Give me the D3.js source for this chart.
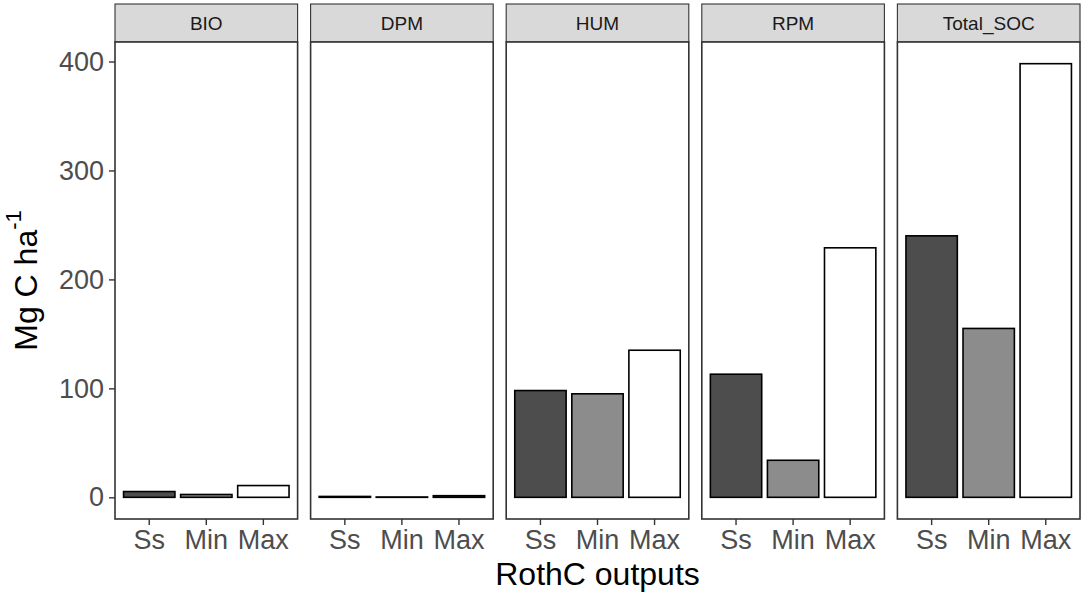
<!DOCTYPE html>
<html><head><meta charset="utf-8">
<script src="https://cdn.jsdelivr.net/npm/d3@7"></script>
<style>body{margin:0;background:#fff;} svg{display:block;font-family:Arial,"Liberation Sans",sans-serif;}</style>
</head><body>
<svg id="chart" width="1084" height="597"></svg>
<script>
const panels = ["BIO", "DPM", "HUM", "RPM", "Total_SOC"];
const categories = ["Ss", "Min", "Max"];
const ssValues  = [5.3, 0.8, 98, 113, 240];
const minValues = [2.6, 0.3, 95, 34, 155];
const maxValues = [10.8, 1.5, 135, 229, 398];
const yTicks = [0, 100, 200, 300, 400];
const fills = {Ss: "#4d4d4d", Min: "#8c8c8c", Max: "#ffffff"};

(function () {
const seriesByCat = {Ss: ssValues, Min: minValues, Max: maxValues};

const svg = d3.select("#chart");
const pLeft = 115, pRight = 1080, pTop = 42, pBottom = 519, stripTop = 4;
const gap = 13;
const pw = (pRight - pLeft - gap * (panels.length - 1)) / panels.length;

const dataMax = d3.max([...ssValues, ...minValues, ...maxValues]);
const ext = dataMax * 0.05;
const y = d3.scaleLinear().domain([-ext, dataMax + ext]).range([pBottom, pTop]);

panels.forEach((p, i) => {
  const x0 = pLeft + i * (pw + gap);
  const g = svg.append("g").attr("transform", `translate(${x0},0)`);
  const x = d3.scaleBand().domain(categories).range([0, pw]).paddingInner(0.1).paddingOuter(0.15);

  g.append("rect").attr("x", 0).attr("y", stripTop).attr("width", pw).attr("height", pTop - stripTop)
    .attr("fill", "#d9d9d9").attr("stroke", "#333333").attr("stroke-width", 1.1);
  g.append("text").attr("x", pw / 2).attr("y", (stripTop + pTop) / 2).attr("dy", "0.36em")
    .attr("text-anchor", "middle").attr("font-size", 19).attr("fill", "#1a1a1a").text(p);

  g.append("rect").attr("x", 0).attr("y", pTop).attr("width", pw).attr("height", pBottom - pTop).attr("fill", "#fff");

  g.selectAll("rect.bar").data(categories.map(c => ({c, v: seriesByCat[c][i]}))).join("rect")
    .attr("class", "bar")
    .attr("x", d => x(d.c)).attr("width", x.bandwidth())
    .attr("y", d => y(d.v)).attr("height", d => Math.max(0, y(0) - y(d.v)))
    .attr("fill", d => fills[d.c]).attr("stroke", "#000").attr("stroke-width", 1.6);

  g.append("rect").attr("x", 0).attr("y", pTop).attr("width", pw).attr("height", pBottom - pTop)
    .attr("fill", "none").attr("stroke", "#333333").attr("stroke-width", 1.6);

  const xa = g.append("g").attr("transform", `translate(0,${pBottom})`)
    .call(d3.axisBottom(x).tickSize(6).tickPadding(5).tickSizeOuter(0));
  xa.select(".domain").remove();
  xa.selectAll("line").attr("stroke", "#333333").attr("stroke-width", 1.4);
  xa.selectAll("text").attr("font-size", 27).attr("fill", "#4d4d4d").attr("font-family", "Arial, 'Liberation Sans', sans-serif");

  if (i === 0) {
    const ya = g.append("g").call(d3.axisLeft(y).tickValues(yTicks).tickSize(6).tickPadding(5).tickFormat(d3.format("d")));
    ya.select(".domain").remove();
    ya.selectAll("line").attr("stroke", "#333333").attr("stroke-width", 1.4);
    ya.selectAll("text").attr("font-size", 27).attr("fill", "#4d4d4d").attr("font-family", "Arial, 'Liberation Sans', sans-serif");
  }
});

svg.append("text").attr("x", (pLeft + pRight) / 2).attr("y", 585).attr("text-anchor", "middle")
  .attr("font-size", 32).attr("fill", "#000").text("RothC outputs");

const yt = svg.append("text").attr("transform", `translate(37,${(pTop + pBottom) / 2}) rotate(-90)`)
  .attr("text-anchor", "middle").attr("font-size", 32).attr("fill", "#000");
yt.append("tspan").text("Mg C ha");
yt.append("tspan").attr("dy", -16).attr("font-size", 22).text("-1");
})();
</script>
</body></html>
